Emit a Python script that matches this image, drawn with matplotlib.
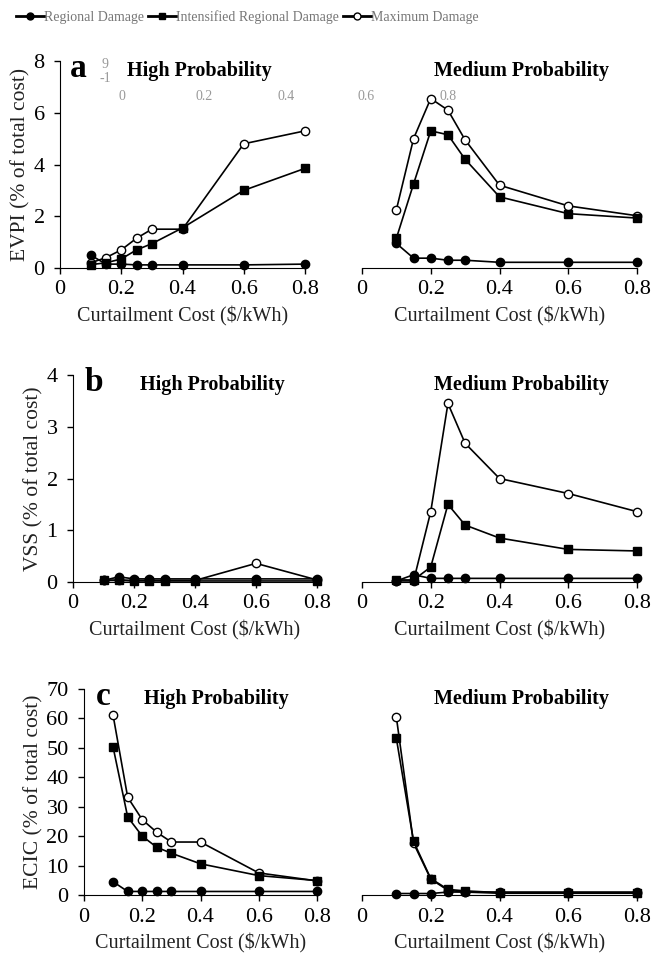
import matplotlib
matplotlib.use("Agg")
import matplotlib.pyplot as plt
from matplotlib.lines import Line2D

plt.rcParams['font.family'] = ['Liberation Serif', 'DejaVu Serif']

cost = [0.1, 0.15, 0.2, 0.25, 0.3, 0.4, 0.6, 0.8]
series_names = ['Regional Damage', 'Intensified Regional Damage', 'Maximum Damage']

# EVPI (% of total cost)
evpi_high_reg = [0.5, 0.15, 0.15, 0.12, 0.12, 0.12, 0.12, 0.15]
evpi_high_int = [0.13, 0.2, 0.35, 0.7, 0.94, 1.55, 3.0, 3.85]
evpi_high_max = [0.2, 0.4, 0.7, 1.15, 1.5, 1.5, 4.8, 5.3]
evpi_med_reg = [0.95, 0.38, 0.38, 0.3, 0.3, 0.22, 0.22, 0.22]
evpi_med_int = [1.15, 3.25, 5.3, 5.15, 4.2, 2.75, 2.1, 1.93]
evpi_med_max = [2.25, 5.0, 6.55, 6.1, 4.95, 3.2, 2.4, 2.02]

# VSS (% of total cost)
vss_high_reg = [0.03, 0.1, 0.06, 0.06, 0.06, 0.06, 0.06, 0.06]
vss_high_int = [0.03, 0.03, 0.02, 0.02, 0.02, 0.02, 0.02, 0.02]
vss_high_max = [0.03, 0.04, 0.03, 0.03, 0.03, 0.03, 0.36, 0.04]
vss_med_reg = [0.02, 0.14, 0.07, 0.07, 0.07, 0.07, 0.07, 0.07]
vss_med_int = [0.04, 0.04, 0.29, 1.5, 1.1, 0.85, 0.63, 0.6]
vss_med_max = [0.02, 0.02, 1.36, 3.45, 2.68, 2.0, 1.71, 1.36]

# ECIC (% of total cost)
ecic_high_reg = [4.5, 1.2, 1.2, 1.2, 1.2, 1.2, 1.2, 1.2]
ecic_high_int = [50.2, 26.5, 20.0, 16.2, 14.2, 10.6, 6.6, 4.9]
ecic_high_max = [61.0, 33.2, 25.6, 21.3, 18.0, 18.0, 7.5, 4.8]
ecic_med_reg = [0.5, 0.5, 0.5, 1.0, 1.0, 1.0, 1.0, 1.0]
ecic_med_int = [53.2, 18.2, 5.6, 1.9, 1.4, 0.8, 0.8, 0.8]
ecic_med_max = [60.4, 17.6, 5.4, 1.6, 1.0, 0.6, 0.6, 0.6]

panels = [
    ('a', 'EVPI (% of total cost)', 8, [0, 2, 4, 6, 8],
     (evpi_high_reg, evpi_high_int, evpi_high_max),
     (evpi_med_reg, evpi_med_int, evpi_med_max)),
    ('b', 'VSS (% of total cost)', 4, [0, 1, 2, 3, 4],
     (vss_high_reg, vss_high_int, vss_high_max),
     (vss_med_reg, vss_med_int, vss_med_max)),
    ('c', 'ECIC (% of total cost)', 70, [0, 10, 20, 30, 40, 50, 60, 70],
     (ecic_high_reg, ecic_high_int, ecic_high_max),
     (ecic_med_reg, ecic_med_int, ecic_med_max)),
]

# axes boxes in pixels: (left, right, bottom, top)
W, H = 651, 960
left_boxes = [(60, 305, 268, 61), (73, 317, 582, 375), (84, 317, 895, 689)]
right_box_x = (362, 637)

styles = [dict(marker='o', mfc='black', mec='black'),
          dict(marker='s', mfc='black', mec='black'),
          dict(marker='o', mfc='white', mec='black')]

fig = plt.figure(figsize=(W / 100, H / 100), dpi=100)


def draw(ax, data, ymax, yticks, show_y):
    # max first, regional last so filled circles sit on top
    for k in [2, 1, 0]:
        ax.plot(cost, data[k], color='black', lw=1.2, ms=6, mew=1.0, clip_on=False, **styles[k])
    ax.set_xlim(0, 0.8)
    ax.set_ylim(0, ymax)
    ax.set_xticks([0, 0.2, 0.4, 0.6, 0.8])
    ax.set_xticklabels(['0', '0.2', '0.4', '0.6', '0.8'])
    ax.spines['top'].set_visible(False)
    ax.spines['right'].set_visible(False)
    ax.tick_params(direction='out', length=4, width=1, labelsize=16, colors='black')
    ax.tick_params(axis='x', pad=5)
    ax.set_xlabel('Curtailment Cost ($/kWh)', fontsize=14.5, color='#222222', labelpad=5)
    if show_y:
        ax.set_yticks(yticks)
        ax.tick_params(axis='y', pad=7)
    else:
        ax.spines['left'].set_visible(False)
        ax.set_yticks([])


for i, (letter, ylabel, ymax, yticks, high, med) in enumerate(panels):
    l, r, b, t = left_boxes[i]
    axl = fig.add_axes([l / W, 1 - b / H, (r - l) / W, (b - t) / H])
    draw(axl, high, ymax, yticks, True)
    axl.set_ylabel(ylabel, fontsize=15.5, color='#222222', labelpad=2)
    axl.text((12 if i else 10) / (r - l), 0.965, letter, transform=axl.transAxes, fontsize=24,
             fontweight='bold', va='center', ha='left')
    axl.text(0.57, 0.95, 'High Probability', transform=axl.transAxes, fontsize=14.5,
             fontweight='bold', va='center', ha='center')

    axr = fig.add_axes([right_box_x[0] / W, 1 - b / H,
                        (right_box_x[1] - right_box_x[0]) / W, (b - t) / H])
    draw(axr, med, ymax, yticks, False)
    axr.text(0.58, 0.95, 'Medium Probability', transform=axr.transAxes, fontsize=14.5,
             fontweight='bold', va='center', ha='center')

# stray grey labels left over in panel a
stray = [('9', 105, 65), ('-1', 105, 79), ('0', 122, 97), ('0.2', 204, 97),
         ('0.4', 286, 97), ('0.6', 366, 97), ('0.8', 448, 97)]
for s, px, py in stray:
    fig.text(px / W, 1 - py / H, s, fontsize=10, color='#999999', ha='center', va='center')

handles = [Line2D([], [], color='black', lw=2, ms=5, **st) for st in styles]
fig.legend(handles, series_names, loc='center left', bbox_to_anchor=(8 / W, 1 - 17 / H),
           ncol=3, frameon=False, fontsize=10, handlelength=2.0, handletextpad=0.0,
           columnspacing=0.3, labelcolor='#777777', borderaxespad=0.2)

fig.savefig('out.png', dpi=100)
